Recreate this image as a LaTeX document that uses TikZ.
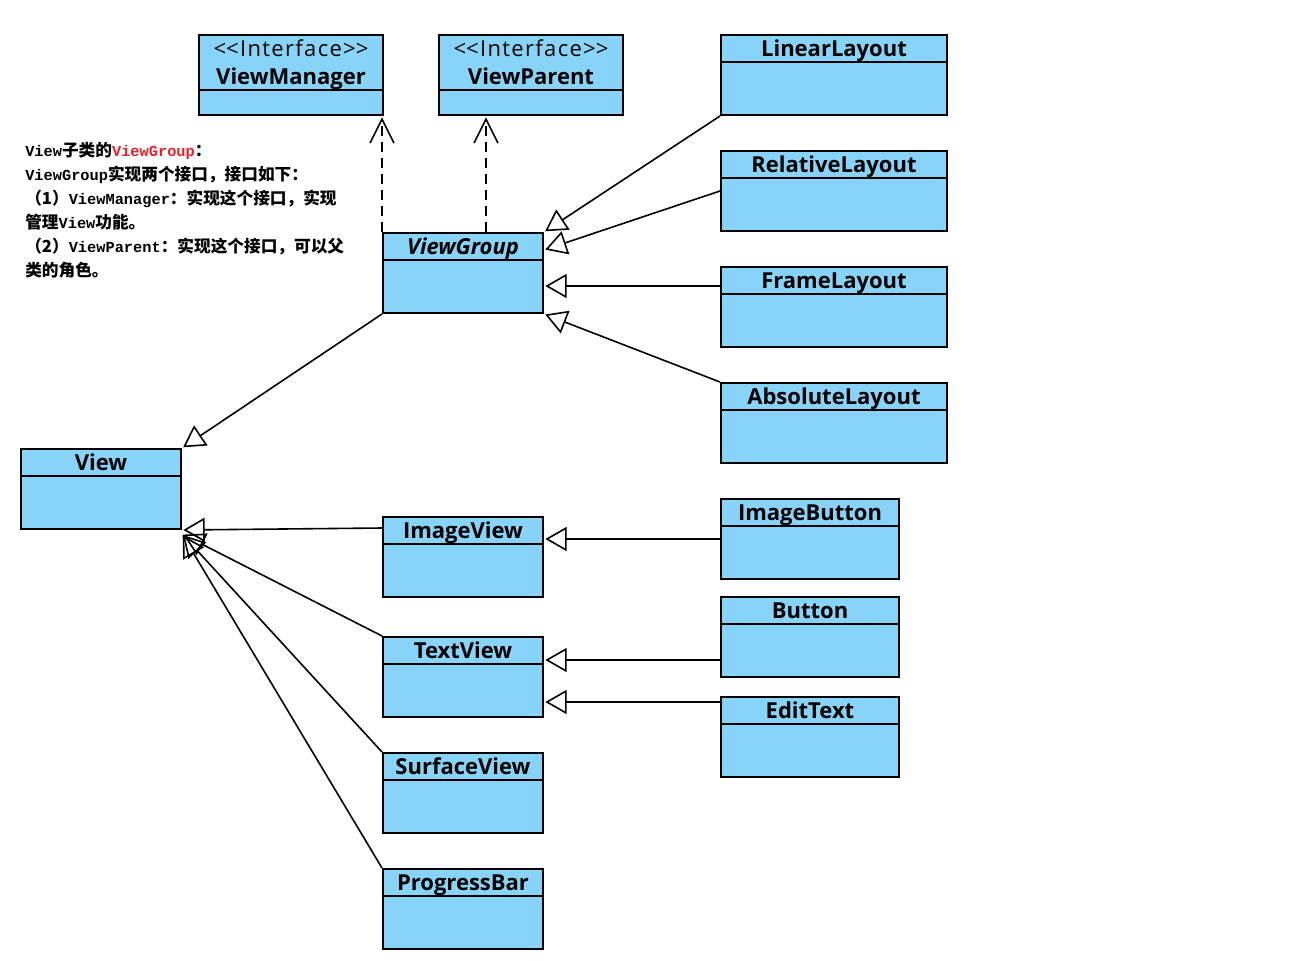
\documentclass[tikz,border=0pt]{standalone}
\usepackage{fontspec}
\setmainfont{Open Sans}
\setmonofont{Liberation Mono}
\newfontfamily\cjk{Noto Sans CJK SC}
\usetikzlibrary{arrows.meta}
\definecolor{umlblue}{RGB}{135,212,248}
\definecolor{umlred}{RGB}{232,32,42}
\newcommand\codeword[1]{{\ttfamily\bfseries\fontsize{11.5}{18}\selectfont #1}}
\tikzset{
  cls/.style={draw, line width=1.5pt, fill=umlblue, minimum width=120pt, minimum height=60pt, inner sep=0pt},
  title/.style={anchor=base, inner sep=0pt, font=\fontsize{16.5}{20}\selectfont\bfseries},
  stereo/.style={anchor=base, inner sep=0pt, font=\fontsize{16.5}{20}\selectfont\addfontfeature{LetterSpace=6}},
  extends/.style={line width=1.2pt, shorten >=1pt, -{Triangle[open, length=16pt, width=18pt, line width=1.2pt]}},
  implements/.style={line width=1.2pt, shorten >=1pt, dash pattern=on 7.5pt off 4.5pt, -{Straight Barb[length=18pt, width=18pt, line width=1.2pt]}},
}
\begin{document}
\begin{tikzpicture}[x=0.75pt, y=-0.75pt]
\useasboundingbox (0,0) rectangle (1302,960);

% interfaces
\node[cls, minimum width=138pt] (viewmanager) at (291,75) {};
\node[cls, minimum width=138pt] (viewparent) at (531,75) {};

% layouts
\node[cls, minimum width=169.5pt] (linearlayout) at (834,75) {};
\node[cls, minimum width=169.5pt] (relativelayout) at (834,191) {};
\node[cls, minimum width=169.5pt] (framelayout) at (834,307) {};
\node[cls, minimum width=169.5pt] (absolutelayout) at (834,423) {};

% views
\node[cls] (viewgroup) at (463,273) {};
\node[cls] (view) at (101,489) {};
\node[cls] (imageview) at (463,557) {};
\node[cls] (textview) at (463,677) {};
\node[cls] (surfaceview) at (463,793) {};
\node[cls] (progressbar) at (463,909) {};
\node[cls, minimum width=133.5pt] (imagebutton) at (810,539) {};
\node[cls, minimum width=133.5pt] (button) at (810,637) {};
\node[cls, minimum width=133.5pt] (edittext) at (810,737) {};

% compartments
\foreach \b in {linearlayout, relativelayout, framelayout, absolutelayout, viewgroup, view,
  imageview, textview, surfaceview, progressbar, imagebutton, button, edittext}
  \draw[line width=1.5pt] ([yshift=-21pt]\b.north west) -- ([yshift=-21pt]\b.north east);
\foreach \b in {viewmanager, viewparent}
  \draw[line width=1.5pt] ([yshift=-42pt]\b.north west) -- ([yshift=-42pt]\b.north east);

% names
\node[stereo] (viewmanager-st) at ([yshift=-16.5pt]viewmanager.north) {<\kern0pt<Interface>\kern0pt>};
\node[title] (viewmanager-t) at ([yshift=-37.5pt]viewmanager.north) {ViewManager};
\node[stereo] (viewparent-st) at ([yshift=-16.5pt]viewparent.north) {<\kern0pt<Interface>\kern0pt>};
\node[title] (viewparent-t) at ([yshift=-37.5pt]viewparent.north) {ViewParent};
\node[title, font=\fontsize{16.5}{20}\selectfont\bfseries\itshape] (viewgroup-t) at ([yshift=-16.5pt]viewgroup.north) {ViewGroup};
\foreach \b/\t in {linearlayout/LinearLayout, relativelayout/RelativeLayout, framelayout/FrameLayout,
  absolutelayout/AbsoluteLayout, view/View, imageview/ImageView, textview/TextView,
  surfaceview/SurfaceView, progressbar/ProgressBar, imagebutton/ImageButton, button/Button, edittext/EditText}
  \node[title] (\b-t) at ([yshift=-16.5pt]\b.north) {\t};

% realizations
\draw[implements] (viewgroup.north west) -- (viewgroup.north west |- viewmanager.south);
\coordinate (vp) at ([xshift=78pt]viewgroup.north west);
\draw[implements] (vp) -- (vp |- viewparent.south);

% generalizations
\draw[extends] (linearlayout.south west) -- (viewgroup.north east);
\draw[extends] (relativelayout.west) -- ([yshift=-13.5pt]viewgroup.north east);
\coordinate (fl) at ([yshift=-15pt]framelayout.north west);
\draw[extends] (fl) -- (fl -| viewgroup.east);
\draw[extends] (absolutelayout.north west) -- (viewgroup.south east);
\draw[extends] (viewgroup.south west) -- (view.north east);
\draw[extends] ([yshift=-9pt]imageview.north west) -- (view.south east);
\draw[extends] (textview.north west) -- ([yshift=-3pt]view.south east);
\draw[extends] (surfaceview.north west) -- ([yshift=-3pt]view.south east);
\draw[extends] (progressbar.north west) -- ([yshift=-3pt]view.south east);
\draw[extends] (imagebutton.west) -- (imagebutton.west -| imageview.east);
\coordinate (bt) at ([yshift=13.5pt]button.south west);
\draw[extends] (bt) -- (bt -| textview.east);
\coordinate (et) at ([yshift=-4.5pt]edittext.north west);
\draw[extends] (et) -- (et -| textview.east);

% note
\node[anchor=north west, align=left, inner sep=0pt, font=\cjk\bfseries\fontsize{12.5}{18}\selectfont] (note) at (25,142)
  {\codeword{View}子类的\textcolor{umlred}{\codeword{ViewGroup}}：\\
   \codeword{ViewGroup}实现两个接口，接口如下：\\
   （1）\codeword{ViewManager}：实现这个接口，实现\\
   管理\codeword{View}功能。\\
   （2）\codeword{ViewParent}：实现这个接口，可以父\\
   类的角色。};
\end{tikzpicture}
\end{document}
